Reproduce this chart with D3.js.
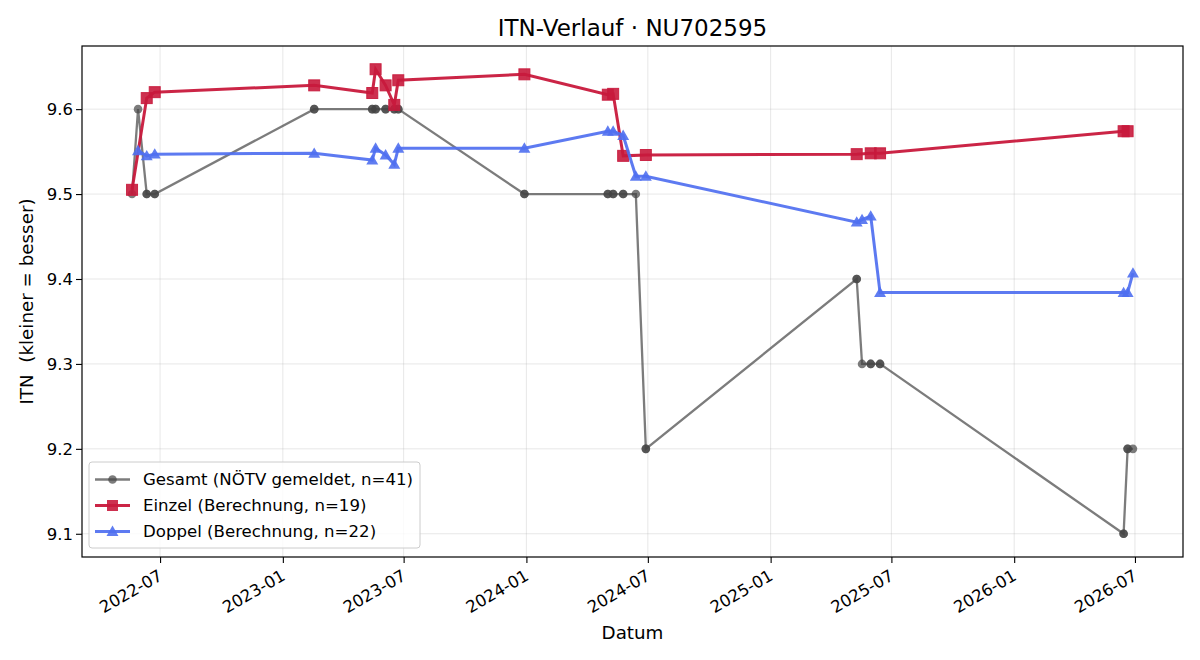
<!DOCTYPE html>
<html>
<head>
<meta charset="utf-8">
<script src="https://cdn.jsdelivr.net/npm/d3@7"></script>
<style>
  body { margin: 0; background: #fff; }
  svg, svg text { font-family: "DejaVu Sans", sans-serif; }
</style>
</head>
<body>
<div id="chart"></div>
<script>
// Gesamt (NÖTV gemeldet) - one entry per match, dates repeat
var gesamtDates = ["2022-05-20","2022-05-29","2022-06-11","2022-06-11","2022-06-23","2022-06-23",
  "2023-02-17","2023-02-17","2023-05-15","2023-05-15","2023-05-20","2023-05-20","2023-06-04","2023-06-04",
  "2023-06-17","2023-06-17","2023-06-23","2023-06-23","2023-12-29","2023-12-29",
  "2024-05-02","2024-05-02","2024-05-10","2024-05-10","2024-05-25","2024-05-25","2024-06-13",
  "2024-06-28","2024-06-28","2025-05-10","2025-05-10","2025-05-18","2025-05-31","2025-05-31",
  "2025-06-14","2025-06-14","2026-06-14","2026-06-14","2026-06-20","2026-06-20","2026-06-28"];
var gesamtValues = [9.5,9.6,9.5,9.5,9.5,9.5,
  9.6,9.6,9.6,9.6,9.6,9.6,9.6,9.6,
  9.6,9.6,9.6,9.6,9.5,9.5,
  9.5,9.5,9.5,9.5,9.5,9.5,9.5,
  9.2,9.2,9.4,9.4,9.3,9.3,9.3,
  9.3,9.3,9.1,9.1,9.2,9.2,9.2];

var einzelDates = ["2022-05-20","2022-06-11","2022-06-23","2023-02-17","2023-05-15","2023-05-20",
  "2023-06-04","2023-06-17","2023-06-23","2023-12-29","2024-05-02","2024-05-10","2024-05-25",
  "2024-06-28","2025-05-10","2025-05-31","2025-06-14","2026-06-14","2026-06-20"];
var einzelValues = [9.505,9.613,9.620,9.628,9.619,9.647,
  9.628,9.605,9.634,9.641,9.617,9.618,9.545,
  9.546,9.547,9.548,9.548,9.574,9.574];

var doppelDates = ["2022-05-29","2022-06-11","2022-06-23","2023-02-17","2023-05-15","2023-05-20",
  "2023-06-04","2023-06-17","2023-06-23","2023-12-29","2024-05-02","2024-05-10","2024-05-25",
  "2024-06-13","2024-06-28","2025-05-10","2025-05-18","2025-05-31","2025-06-14","2026-06-14",
  "2026-06-20","2026-06-28"];
var doppelValues = [9.551,9.545,9.547,9.548,9.540,9.554,
  9.546,9.535,9.554,9.554,9.574,9.574,9.569,
  9.521,9.521,9.467,9.470,9.474,9.384,9.384,
  9.384,9.407];

var yTicks = [9.1, 9.2, 9.3, 9.4, 9.5, 9.6];

var W = 1200, H = 660;
var mLeft = 82, mRight = 1183, mTop = 46, mBottom = 557;
var parse = d3.timeParse("%Y-%m-%d");

function rows(dates, vals) {
  return dates.map(function(d, i) { return { date: parse(d), value: vals[i] }; });
}
var gesamt = rows(gesamtDates, gesamtValues);
var einzel = rows(einzelDates, einzelValues);
var doppel = rows(doppelDates, doppelValues);

// matplotlib-like 5% margins
var allPts = gesamt.concat(einzel, doppel);
var xe = d3.extent(allPts, function(d) { return d.date; });
var ye = d3.extent(allPts, function(d) { return d.value; });
var xPad = (xe[1] - xe[0]) * 0.05, yPad = (ye[1] - ye[0]) * 0.05;

var x = d3.scaleTime().domain([new Date(+xe[0] - xPad), new Date(+xe[1] + xPad)]).range([mLeft, mRight]);
var y = d3.scaleLinear().domain([ye[0] - yPad, ye[1] + yPad]).range([mBottom, mTop]);

var svg = d3.select("#chart").append("svg").attr("width", W).attr("height", H);

var xTicks = x.ticks(d3.timeMonth.every(6));

// grid
var grid = svg.append("g");
grid.selectAll("line.gx").data(xTicks).enter().append("line")
  .attr("x1", function(d) { return x(d); }).attr("x2", function(d) { return x(d); })
  .attr("y1", mTop).attr("y2", mBottom)
  .attr("stroke", "#b0b0b0").attr("stroke-opacity", 0.3).attr("stroke-width", 1);
grid.selectAll("line.gy").data(yTicks).enter().append("line")
  .attr("x1", mLeft).attr("x2", mRight)
  .attr("y1", function(d) { return y(d); }).attr("y2", function(d) { return y(d); })
  .attr("stroke", "#b0b0b0").attr("stroke-opacity", 0.3).attr("stroke-width", 1);

// axes
var xAxis = svg.append("g").attr("transform", "translate(0," + mBottom + ")")
  .call(d3.axisBottom(x).tickValues(xTicks).tickFormat(d3.timeFormat("%Y-%m")).tickSizeOuter(0).tickSize(6));
xAxis.attr("font-family", "DejaVu Sans").attr("font-size", 16.5);
xAxis.select(".domain").remove();
xAxis.selectAll("line").attr("stroke-width", 1.1);
xAxis.selectAll("text")
  .attr("fill", "#000")
  .attr("text-anchor", "end")
  .attr("y", 0).attr("dy", 0)
  .attr("transform", "translate(3,22) rotate(-30)");

var yAxis = svg.append("g").attr("transform", "translate(" + mLeft + ",0)")
  .call(d3.axisLeft(y).tickValues(yTicks).tickFormat(d3.format(".1f")).tickSizeOuter(0).tickSize(6));
yAxis.attr("font-family", "DejaVu Sans").attr("font-size", 16.5);
yAxis.select(".domain").remove();
yAxis.selectAll("line").attr("stroke-width", 1.1);
yAxis.selectAll("text").attr("fill", "#000").attr("x", -9);

svg.append("rect").attr("x", mLeft).attr("y", mTop).attr("width", mRight - mLeft).attr("height", mBottom - mTop)
  .attr("fill", "none").attr("stroke", "#000").attr("stroke-width", 1.2);

// series
var line = d3.line().x(function(d) { return x(d.date); }).y(function(d) { return y(d.value); });

var gG = svg.append("g");
gG.append("path").datum(gesamt).attr("d", line)
  .attr("fill", "none").attr("stroke", "#444").attr("stroke-opacity", 0.7).attr("stroke-width", 2.3);
gG.selectAll("circle").data(gesamt).enter().append("circle")
  .attr("cx", function(d) { return x(d.date); }).attr("cy", function(d) { return y(d.value); })
  .attr("r", 4.3).attr("fill", "#444").attr("fill-opacity", 0.7);

var gE = svg.append("g");
gE.append("path").datum(einzel).attr("d", line)
  .attr("fill", "none").attr("stroke", "#c8193c").attr("stroke-opacity", 0.95).attr("stroke-width", 3);
gE.selectAll("rect").data(einzel).enter().append("rect")
  .attr("x", function(d) { return x(d.date) - 5.5; }).attr("y", function(d) { return y(d.value) - 5.5; })
  .attr("width", 11).attr("height", 11)
  .attr("fill", "#c8193c").attr("fill-opacity", 0.9).attr("stroke", "#c8193c").attr("stroke-opacity", 0.9);

var tri = d3.symbol().type(d3.symbolTriangle).size(62);
var gD = svg.append("g");
gD.append("path").datum(doppel).attr("d", line)
  .attr("fill", "none").attr("stroke", "#4f6ff0").attr("stroke-opacity", 0.92).attr("stroke-width", 3);
gD.selectAll("path.m").data(doppel).enter().append("path").attr("class", "m")
  .attr("d", tri)
  .attr("transform", function(d) { return "translate(" + x(d.date) + "," + (y(d.value) + 1) + ")"; })
  .attr("fill", "#4f6ff0").attr("fill-opacity", 0.9);

// title and labels
svg.append("text").attr("x", (mLeft + mRight) / 2).attr("y", 36).attr("text-anchor", "middle")
  .attr("font-size", 23).text("ITN-Verlauf · NU702595");
svg.append("text").attr("x", (mLeft + mRight) / 2).attr("y", 639).attr("text-anchor", "middle")
  .attr("font-size", 18.3).text("Datum");
svg.append("text").attr("transform", "translate(33," + ((mTop + mBottom) / 2) + ") rotate(-90)")
  .attr("text-anchor", "middle").attr("font-size", 18.3).attr("xml:space", "preserve")
  .text("ITN  (kleiner = besser)");

// legend
var legendItems = [
  { label: "Gesamt (NÖTV gemeldet, n=41)", color: "#444", op: 0.7, w: 2.3, shape: "circle" },
  { label: "Einzel (Berechnung, n=19)", color: "#c8193c", op: 0.95, w: 3, shape: "square" },
  { label: "Doppel (Berechnung, n=22)", color: "#4f6ff0", op: 0.92, w: 3, shape: "triangle" }
];
var lg = svg.append("g");
lg.append("rect").attr("x", 89).attr("y", 462).attr("width", 331).attr("height", 86)
  .attr("rx", 3).attr("fill", "#fff").attr("fill-opacity", 0.8).attr("stroke", "#ccc");
var li = lg.selectAll("g.item").data(legendItems).enter().append("g")
  .attr("transform", function(d, i) { return "translate(0," + (479.5 + i * 26) + ")"; });
li.append("line").attr("x1", 95).attr("x2", 130).attr("y1", 0).attr("y2", 0)
  .attr("stroke", function(d) { return d.color; }).attr("stroke-opacity", function(d) { return d.op; })
  .attr("stroke-width", function(d) { return d.w; });
li.each(function(d) {
  var g = d3.select(this);
  if (d.shape === "circle") {
    g.append("circle").attr("cx", 112.5).attr("cy", 0).attr("r", 4.3).attr("fill", d.color).attr("fill-opacity", 0.7);
  } else if (d.shape === "square") {
    g.append("rect").attr("x", 107).attr("y", -5.5).attr("width", 11).attr("height", 11).attr("fill", d.color).attr("fill-opacity", 0.9);
  } else {
    g.append("path").attr("d", tri).attr("transform", "translate(112.5,1)").attr("fill", d.color).attr("fill-opacity", 0.9);
  }
});
li.append("text").attr("x", 143).attr("y", 0).attr("dy", "0.36em").attr("font-size", 16.6)
  .text(function(d) { return d.label; });
</script>
</body>
</html>
